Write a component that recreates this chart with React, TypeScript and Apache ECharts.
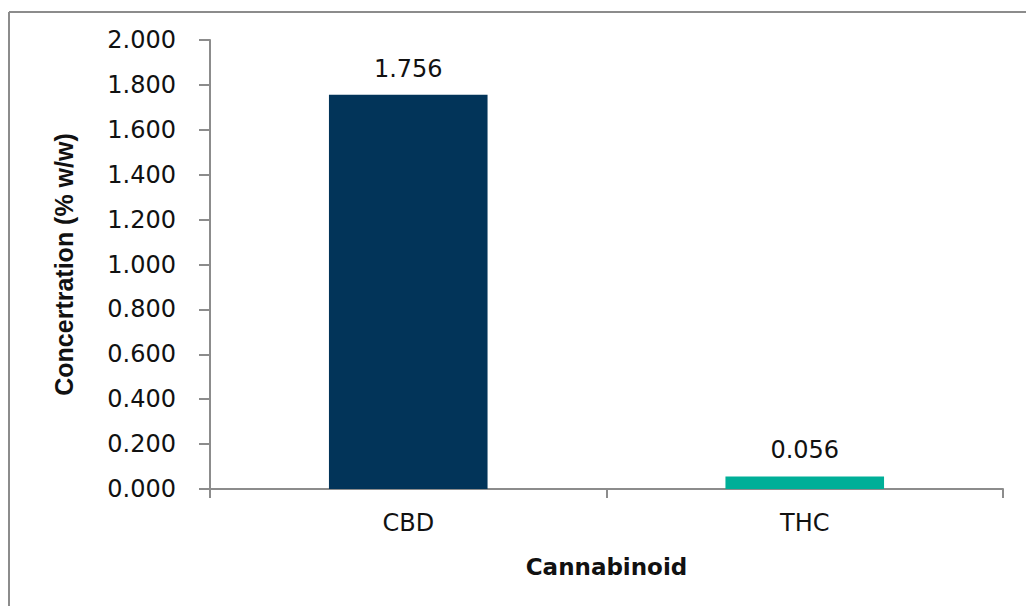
import React, { useEffect, useRef } from "react";
import * as echarts from "echarts";

const categories = ["CBD", "THC"];
const values = [1.756, 0.056];
const barColors = ["#023459", "#00AF98"];
const yTicks = { min: 0, max: 2, interval: 0.2 };
const yAxisTitle = "Concertration (% w/w)";
const xAxisTitle = "Cannabinoid";

export default function App() {
  const ref = useRef<HTMLDivElement>(null);
  useEffect(() => {
    document.body.style.margin = "0";
    const chart = echarts.init(ref.current!, null, { renderer: "svg" });
    const font = "'DejaVu Sans', Verdana, sans-serif";
    chart.setOption({
      animation: false,
      backgroundColor: "#ffffff",
      grid: { left: 210, top: 40, right: 23, bottom: 117, containLabel: false },
      xAxis: {
        type: "category",
        data: categories,
        axisLine: { lineStyle: { color: "#8c8c8c", width: 2 } },
        axisTick: { show: true, length: 9, alignWithLabel: false, lineStyle: { color: "#8c8c8c", width: 2 } },
        axisLabel: { color: "#111", fontSize: 24, fontFamily: font, margin: 22 },
        name: xAxisTitle,
        nameLocation: "middle",
        nameGap: 66,
        nameTextStyle: { color: "#111", fontSize: 23, fontWeight: "bold", fontFamily: font },
      },
      yAxis: {
        type: "value",
        min: yTicks.min,
        max: yTicks.max,
        interval: yTicks.interval,
        splitLine: { show: false },
        axisLine: { show: true, lineStyle: { color: "#8c8c8c", width: 2 } },
        axisTick: { show: true, length: 11, lineStyle: { color: "#8c8c8c", width: 2 } },
        axisLabel: {
          color: "#111",
          fontSize: 24,
          fontFamily: font,
          margin: 34,
          formatter: (v: number) => v.toFixed(3),
        },
        name: yAxisTitle,
        nameLocation: "middle",
        nameGap: 134,
        nameRotate: 90,
        nameTextStyle: {
          color: "#111",
          fontSize: 25,
          fontWeight: "bold",
          fontFamily: "'Liberation Sans Narrow', 'Arial Narrow', sans-serif",
        },
      },
      series: [
        {
          type: "bar",
          barWidth: "40%",
          data: values.map((v, i) => ({ value: v, itemStyle: { color: barColors[i] } })),
          label: {
            show: true,
            position: "top",
            distance: 14,
            color: "#111",
            fontSize: 24,
            fontFamily: font,
            formatter: (p: any) => Number(p.value).toFixed(3),
          },
        },
      ],
      graphic: [
        { type: "line", shape: { x1: 9, y1: 12, x2: 1026, y2: 12 }, style: { stroke: "#8c8c8c", lineWidth: 2 } },
        { type: "line", shape: { x1: 9, y1: 12, x2: 9, y2: 606 }, style: { stroke: "#8c8c8c", lineWidth: 2 } },
      ],
    });
    return () => chart.dispose();
  }, []);
  return <div ref={ref} style={{ position: "absolute", left: 0, top: 0, width: 1026, height: 606 }} />;
}
